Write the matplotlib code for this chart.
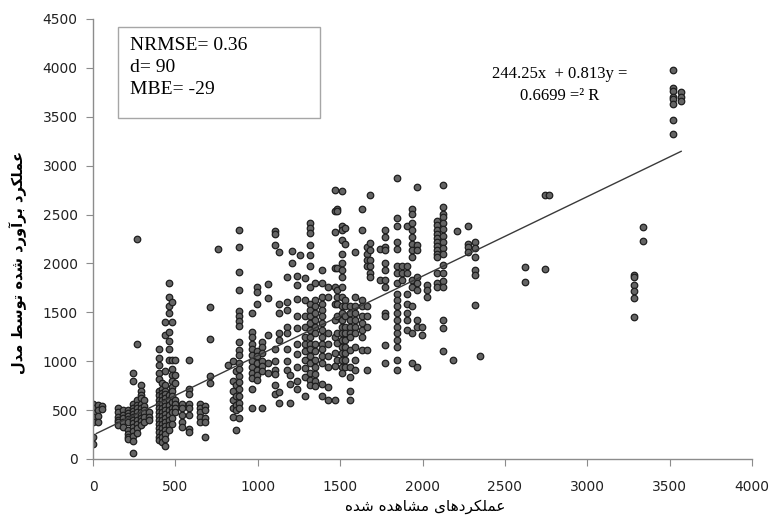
import numpy as np
import matplotlib
matplotlib.use("Agg")
import matplotlib.pyplot as plt
from matplotlib.patches import Rectangle

cols_low = [
    (0, [560, 520, 470, 430, 380, 230, 150]),
    (30, [550, 500, 440, 380]),
    (55, [540, 510]),
    (150, [520, 480, 430, 400, 380, 350]),
    (180, [500, 450, 420, 380, 330]),
    (210, [500, 470, 440, 410, 380, 300, 260, 230, 200]),
    (240, [880, 800, 560, 520, 490, 460, 430, 400, 370, 330, 290, 240, 180, 60]),
    (270, [2250, 1180, 600, 550, 520, 480, 440, 400, 360, 320, 270]),
    (290, [760, 700, 650, 620, 560, 520, 480, 450, 420, 390, 350]),
    (310, [600, 540, 500, 470, 430, 380]),
    (340, [480, 430, 400]),
    (400, [1130, 1030, 960, 880, 820, 700, 650, 600, 560, 520, 480, 440, 400, 360, 320, 280, 230, 190]),
    (420, [780, 720, 680, 640, 600, 560, 520, 480, 440, 400, 360, 320, 270, 220, 170]),
    (440, [1400, 1270, 900, 760, 700, 660, 620, 580, 540, 500, 460, 420, 380, 340, 300, 260, 200, 130]),
    (460, [1800, 1660, 1560, 1490, 1300, 1210, 1130, 1010, 650, 600, 550, 500, 450, 400, 350, 300]),
    (480, [1610, 1400, 1010, 920, 860, 800, 740, 700, 640, 580, 520, 480, 420, 360]),
    (500, [1010, 860, 780, 600, 560, 520, 480]),
    (540, [560, 520, 450, 380, 330]),
    (580, [1010, 720, 660, 560, 520, 450, 310, 280]),
    (650, [560, 520, 480, 430, 380]),
    (680, [540, 500, 420, 380, 230]),
    (710, [1550, 1230, 850, 780]),
    (760, [2150]),
]

cols_mid = [
    (820, [960]),
    (850, [1000, 800, 700, 600, 520, 430]),
    (865, [900, 760, 640, 550, 500, 300]),
    (886, [2340, 2170, 1915, 1730, 1510, 1460, 1410, 1360, 1200, 1110, 1060, 980, 920, 850, 790, 720, 640, 570, 520, 420]),
    (963, [1490, 1300, 1250, 1180, 1120, 1060, 1000, 940, 880, 830, 720, 520]),
    (994, [1760, 1710, 1590, 1100, 1050, 980, 910, 860, 810]),
    (1024, [1200, 1150, 1080, 1000, 950, 900, 520]),
    (1065, [1790, 1650, 1270, 980, 880]),
    (1105, [2330, 2300, 2190, 1120, 1000, 910, 870, 760, 660]),
    (1126, [2120, 1590, 1490, 1290, 1220, 690, 570]),
    (1176, [1860, 1610, 1520, 1350, 1290, 1120, 1000, 910]),
    (1196, [860, 770, 570]),
    (1206, [2130, 2000]),
    (1237, [1870, 1780, 1640, 1460, 1340, 1180, 1070, 940, 800, 720]),
    (1257, [2090]),
    (1288, [1850, 1630, 1460, 1350, 1250, 1180, 1100, 1010, 930, 840, 640]),
    (1318, [2410, 2360, 2310, 2190, 2090, 1970, 1760, 1590, 1520, 1460, 1390, 1320, 1250, 1180, 1120, 1050, 980, 880, 810, 760]),
    (1348, [1800, 1630, 1560, 1490, 1420, 1350, 1290, 1180, 1100, 1010, 940, 870, 800, 750]),
    (1389, [1930, 1800, 1660, 1590, 1520, 1460, 1390, 1320, 1250, 1180, 1120, 1050, 980, 770, 640]),
    (1429, [1760, 1660, 1290, 1180, 1050, 940, 740, 600]),
    (1470, [2750, 2540, 2320, 1950, 1760, 1590, 1420, 1250, 1080, 950, 600]),
]

cols_high = [
    (1479, [2560, 2540, 1950, 1730, 1660, 1590, 1460, 1290, 1190, 1010]),
    (1509, [2740, 2380, 2340, 2240, 2100, 2000, 1930, 1860, 1760, 1660, 1560, 1490, 1420, 1350, 1290, 1220, 1150, 1080, 1010, 940, 880]),
    (1530, [2360, 2200, 1630, 1560, 1460, 1350, 1290, 1220, 1150, 1080, 1010, 940]),
    (1560, [1560, 1490, 1420, 1350, 1290, 1250, 1110, 940, 840, 700, 600]),
    (1590, [2120, 1660, 1560, 1490, 1420, 1350, 1290, 1150, 1010, 910]),
    (1631, [2560, 2340, 1630, 1560, 1460, 1390, 1320, 1250, 1110]),
    (1661, [2170, 2100, 2040, 1970, 1560, 1460, 1350, 1110, 910]),
    (1681, [2700, 2210, 2140, 2040, 1970, 1900, 1860]),
    (1742, [2150, 1830]),
    (1772, [2340, 2270, 2170, 2140, 2000, 1930, 1830, 1760, 1490, 1460, 1170, 980]),
    (1843, [2870, 2460, 2380, 2220, 2150, 1970, 1900, 1800, 1690, 1630, 1560, 1490, 1420, 1350, 1290, 1220, 1150, 1010, 910]),
    (1874, [1970, 1900, 1830]),
    (1904, [2380, 1970, 1900, 1690, 1590, 1490, 1420, 1320]),
    (1934, [2560, 2510, 2410, 2340, 2270, 2200, 2140, 2070, 1830, 1760, 1560, 1290, 980]),
    (1965, [2780, 2190, 2140, 1860, 1800, 1730, 1420, 1350, 940]),
    (1995, [1350, 1270]),
    (2026, [1780, 1730, 1660]),
    (2086, [2430, 2390, 2340, 2300, 2260, 2220, 2180, 2140, 2100, 2070, 1900, 1800, 1760]),
    (2127, [2800, 2580, 2510, 2470, 2410, 2350, 2280, 2220, 2160, 2100, 1980, 1900, 1820, 1760, 1420, 1340, 1100]),
    (2188, [1010]),
    (2207, [2330]),
    (2278, [2380, 2200, 2170, 2120]),
    (2319, [2220, 2160, 2070, 1930, 1880, 1580]),
    (2349, [1050]),
]

cols_right = [
    (2622, [1960, 1810]),
    (2744, [2700, 1940]),
    (2770, [2700]),
    (3284, [1880, 1860, 1780, 1720, 1650, 1450]),
    (3341, [2370, 2230]),
    (3523, [3980, 3790, 3760, 3700, 3680, 3630, 3470, 3320]),
    (3570, [3750, 3700, 3660]),
]

slope, intercept = 0.813, 244.25
stats = ["NRMSE= 0.36", "d= 90", "MBE= -29"]
eq_lines = ["244.25x  + 0.813y =", "0.6699 =\u00b2 R"]
ylabel = "عملکرد برآورد شده توسط مدل"
xlabel = "عملکردهای مشاهده شده"

# minimal persian shaping (matplotlib has no bidi / joining)
FORMS = {
    'ع': '\uFEC9\uFECA\uFECB\uFECC', 'م': '\uFEE1\uFEE2\uFEE3\uFEE4',
    'ل': '\uFEDD\uFEDE\uFEDF\uFEE0', 'ک': '\uFB8E\uFB8F\uFB90\uFB91',
    'ب': '\uFE8F\uFE90\uFE91\uFE92', 'ش': '\uFEB5\uFEB6\uFEB7\uFEB8',
    'ه': '\uFEE9\uFEEA\uFEEB\uFEEC', 'ت': '\uFE95\uFE96\uFE97\uFE98',
    'س': '\uFEB1\uFEB2\uFEB3\uFEB4', 'ط': '\uFEC1\uFEC2\uFEC3\uFEC4',
    'ی': '\uFBFC\uFBFD\uFBFE\uFBFF',
    'ر': '\uFEAD\uFEAE', 'د': '\uFEA9\uFEAA', 'آ': '\uFE81\uFE82',
    'و': '\uFEED\uFEEE', 'ا': '\uFE8D\uFE8E',
}

def shape(text):
    out = []
    for word in text.split(' '):
        res = ''
        for i, c in enumerate(word):
            f = FORMS[c]
            dual = len(f) == 4
            prev = i > 0 and len(FORMS[word[i - 1]]) == 4
            nxt = dual and i < len(word) - 1
            if prev and nxt:
                res += f[3]
            elif prev:
                res += f[1]
            elif nxt:
                res += f[2]
            else:
                res += f[0]
        out.append(res)
    return ' '.join(out)[::-1]

obs, est = [], []
for cols in (cols_low, cols_mid, cols_high, cols_right):
    for x, ys in cols:
        obs += [x] * len(ys)
        est += ys
obs = np.array(obs, dtype=float)
est = np.array(est, dtype=float)

fig = plt.figure(figsize=(7.7, 5.15), dpi=100)
ax = fig.add_axes([93 / 770, 56 / 515, 659 / 770, 440 / 515])

ax.scatter(obs, est, s=22, facecolor='#646464', edgecolor='#1e1e1e', linewidth=0.9, zorder=2)
xl = np.array([20, obs.max()])
ax.plot(xl, slope * xl + intercept, color='#3a3a3a', lw=1.0, zorder=3)

ax.set_xlim(0, 4000)
ax.set_ylim(0, 4500)
ax.set_xticks(np.arange(0, 4001, 500))
ax.set_yticks(np.arange(0, 4501, 500))
for s in ('top', 'right'):
    ax.spines[s].set_visible(False)
for s in ('left', 'bottom'):
    ax.spines[s].set_color('#8c8c8c')
    ax.spines[s].set_linewidth(1.0)
ax.tick_params(direction='out', length=5, color='#8c8c8c', labelsize=10, labelcolor='#222222', pad=6)
ax.tick_params(axis='x', pad=10)

fig.patches.append(Rectangle((118 / 770, 1 - 118 / 515), 202 / 770, 91 / 515,
                             transform=fig.transFigure, facecolor='white',
                             edgecolor='#a6a6a6', lw=1.0))
for i, t in enumerate(stats):
    fig.text(130 / 770, 1 - (45 + i * 22.5) / 515, t, family='Liberation Serif',
             fontsize=14, va='center', ha='left', color='black')
for i, t in enumerate(eq_lines):
    fig.text(560 / 770, 1 - (74 + i * 22) / 515, t, family='Liberation Serif',
             fontsize=12, va='center', ha='center', color='black')

fig.text(425 / 770, 1 - 507 / 515, shape(xlabel), family='DejaVu Sans',
         fontsize=11, ha='center', va='center')
fig.text(18 / 770, 1 - 262 / 515, shape(ylabel), family='DejaVu Sans',
         fontsize=10.5, fontweight='bold', rotation=90, ha='center', va='center')

fig.savefig('out.png', dpi=100)
